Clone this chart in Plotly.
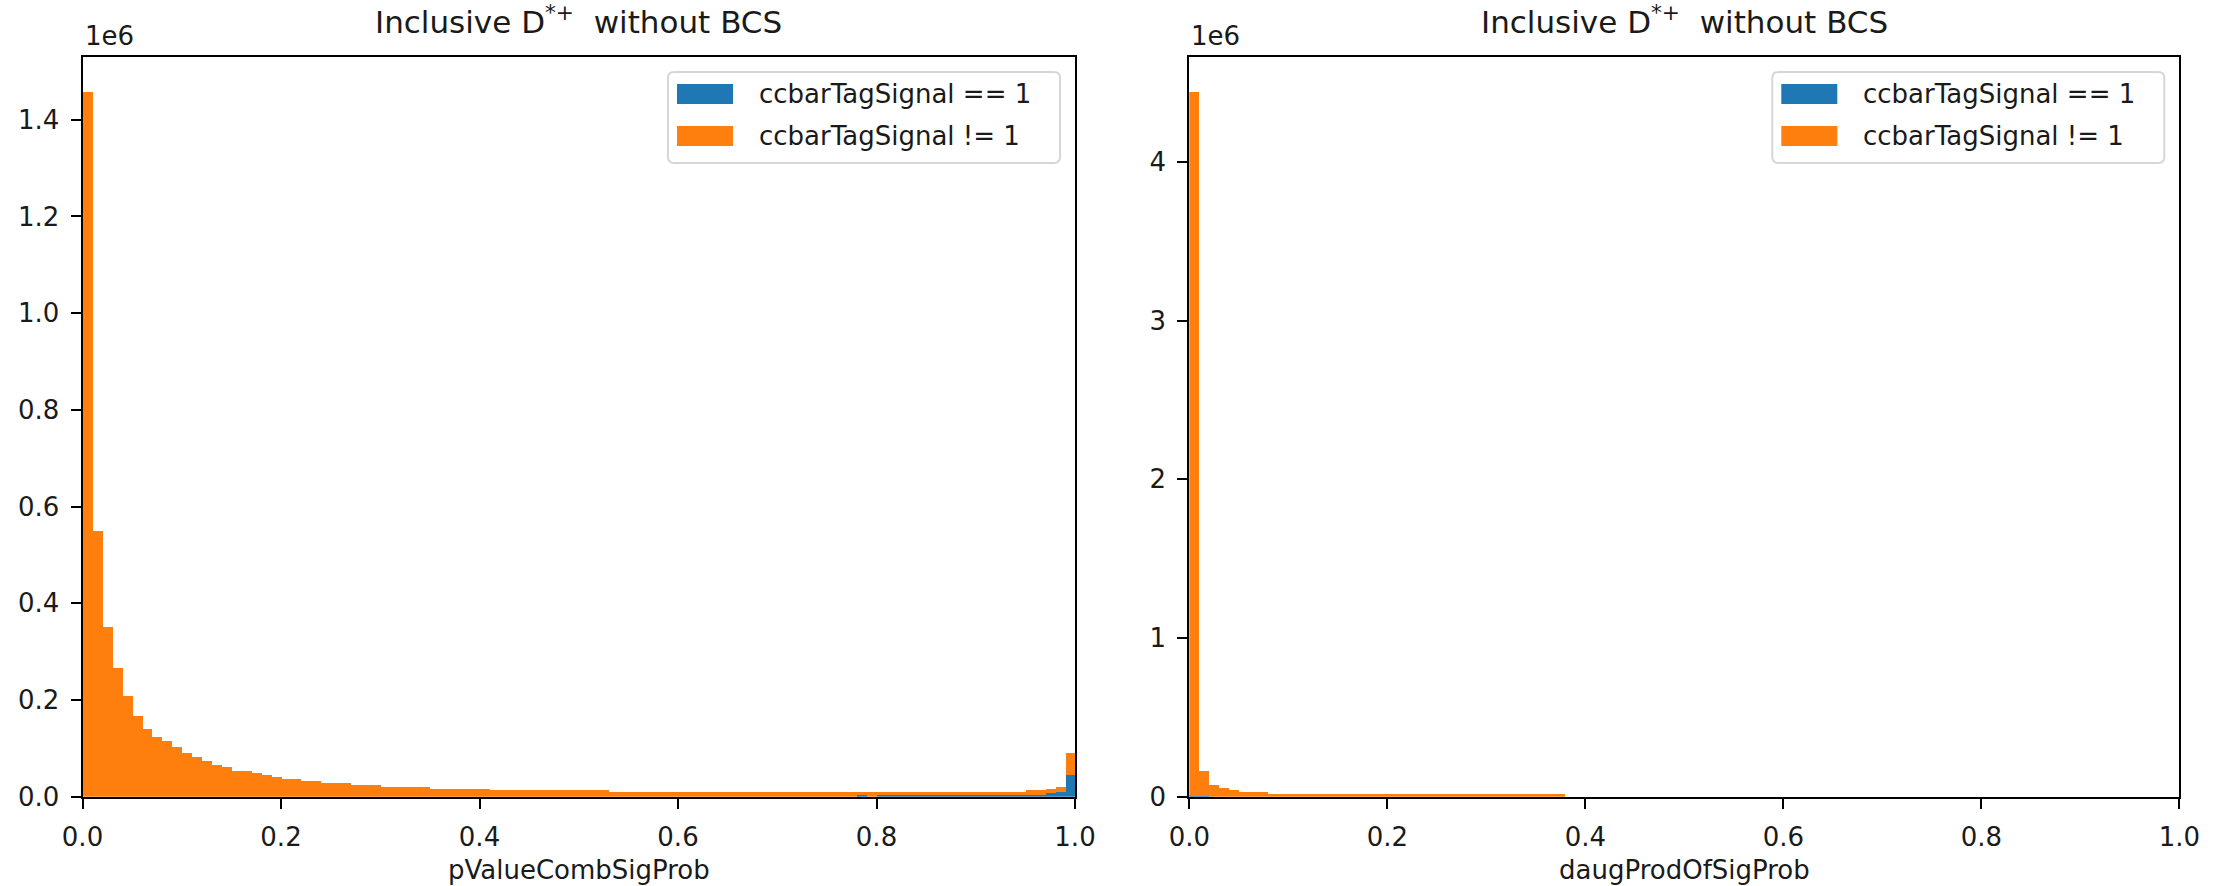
import numpy as np
import plotly.graph_objects as go

# ---- histogram contents: 100 equal bins on [0, 1] ----
bin_edges = np.linspace(0.0, 1.0, 101)

# pValueCombSigProb, ccbarTagSignal == 1
p_signal = ([0] * 78 + [4000] + [0] + [4000] * 15
            + [4500, 4500, 8000, 9000, 45000])
# pValueCombSigProb, ccbarTagSignal != 1
p_background = ([1457000, 550000, 352000, 266000, 208000, 166000, 140000,
                 124000, 116000, 103000, 91000, 82000, 74000, 66000, 62000,
                 54000, 54000, 50000, 45000, 41000, 37000, 37000, 33000,
                 33000, 29000, 29000, 29000, 24000, 24000, 24000]
                + [20500] * 5 + [16600] * 6 + [13100] * 12 + [9600] * 25
                + [5600] + [9600] + [5600] * 15
                + [8500, 8500, 8600, 11700, 46000])

# daugProdOfSigProb, ccbarTagSignal == 1
d_signal = [6000, 6000] + [0] * 98
# daugProdOfSigProb, ccbarTagSignal != 1
d_background = ([4434000, 158000, 74000, 53000, 40000, 27000, 27000, 27000]
                + [14700] * 30 + [0] * 62)

series_names = ["ccbarTagSignal == 1", "ccbarTagSignal != 1"]
series_colors = ["#1f77b4", "#ff7f0e"]
x_titles = ["pValueCombSigProb", "daugProdOfSigProb"]
panel_title = "Inclusive D<sup>*+</sup>  without BCS"
left_ticks = [0, 200000, 400000, 600000, 800000, 1000000, 1200000, 1400000]
left_ticktext = ["0.0", "0.2", "0.4", "0.6", "0.8", "1.0", "1.2", "1.4"]
right_ticks = [0, 1000000, 2000000, 3000000, 4000000]
right_ticktext = ["0", "1", "2", "3", "4"]
x_ticks = [0.0, 0.2, 0.4, 0.6, 0.8, 1.0]
x_ticktext = ["0.0", "0.2", "0.4", "0.6", "0.8", "1.0"]

# ---- page geometry (pixels) ----
W, H = 2227, 886
FONT = "DejaVu Sans"
INK = "#1a1a1a"


def px(x):
    return x / W


def py(y):
    return 1 - y / H


panels = [
    dict(x0=82.5, x1=1075.0),
    dict(x0=1189.3, x1=2179.3),
]
ax_top, ax_bottom = 57.0, 796.7

centers = 0.5 * (bin_edges[:-1] + bin_edges[1:])
widths = np.diff(bin_edges)

fig = go.Figure()

data_sets = [(p_signal, p_background), (d_signal, d_background)]
for i, (sig, bkg) in enumerate(data_sets):
    xa = "x" if i == 0 else "x2"
    ya = "y" if i == 0 else "y2"
    for vals, name, col in zip((sig, bkg), series_names, series_colors):
        fig.add_trace(go.Bar(
            x=centers, y=vals, width=widths, name=name,
            marker=dict(color=col, line=dict(width=0)),
            xaxis=xa, yaxis=ya, showlegend=False,
        ))

axis_common = dict(
    showline=True, mirror=True, linecolor="black", linewidth=2,
    ticks="outside", ticklen=10, tickwidth=2, tickcolor="black",
    showgrid=False, zeroline=False, automargin=False,
    tickfont=dict(family=FONT, size=26, color=INK),
)

p_ymax = max(a + b for a, b in zip(p_signal, p_background)) * 1.05
d_ymax = max(a + b for a, b in zip(d_signal, d_background)) * 1.05

fig.update_layout(
    width=W, height=H,
    margin=dict(l=0, r=0, t=0, b=0),
    paper_bgcolor="white", plot_bgcolor="white",
    barmode="stack", bargap=0,
    xaxis=dict(domain=[px(panels[0]["x0"]), px(panels[0]["x1"])],
               range=[0, 1], anchor="y", tickvals=x_ticks,
               ticktext=x_ticktext, ticklabelstandoff=6, **axis_common),
    yaxis=dict(domain=[py(ax_bottom), py(ax_top)], range=[0, p_ymax],
               anchor="x", tickvals=left_ticks, ticktext=left_ticktext,
               ticklabelstandoff=6, **axis_common),
    xaxis2=dict(domain=[px(panels[1]["x0"]), px(panels[1]["x1"])],
                range=[0, 1], anchor="y2", tickvals=x_ticks,
                ticktext=x_ticktext, ticklabelstandoff=6, **axis_common),
    yaxis2=dict(domain=[py(ax_bottom), py(ax_top)], range=[0, d_ymax],
                anchor="x2", tickvals=right_ticks, ticktext=right_ticktext,
                ticklabelstandoff=6, **axis_common),
)

annotations = []
shapes = []
for i, pnl in enumerate(panels):
    cx = 0.5 * (pnl["x0"] + pnl["x1"])
    # panel title
    annotations.append(dict(
        x=px(cx), y=py(42), xref="paper", yref="paper",
        xanchor="center", yanchor="bottom", showarrow=False,
        text=panel_title, font=dict(family=FONT, size=31, color=INK)))
    # axis offset label
    annotations.append(dict(
        x=px(pnl["x0"]), y=py(53), xref="paper", yref="paper",
        xanchor="left", yanchor="bottom", showarrow=False,
        text="1e6", font=dict(family=FONT, size=26, color=INK)))
    # x-axis title
    annotations.append(dict(
        x=px(cx), y=py(853), xref="paper", yref="paper",
        xanchor="center", yanchor="top", showarrow=False,
        text=x_titles[i], font=dict(family=FONT, size=26, color=INK)))

    # legend frame
    lx0 = pnl["x1"] - 407
    lx1 = pnl["x1"] - 15
    ly0, ly1 = 72, 163
    r = 6
    path = (f"M {px(lx0 + r)},{py(ly0)} L {px(lx1 - r)},{py(ly0)} "
            f"Q {px(lx1)},{py(ly0)} {px(lx1)},{py(ly0 + r)} "
            f"L {px(lx1)},{py(ly1 - r)} "
            f"Q {px(lx1)},{py(ly1)} {px(lx1 - r)},{py(ly1)} "
            f"L {px(lx0 + r)},{py(ly1)} "
            f"Q {px(lx0)},{py(ly1)} {px(lx0)},{py(ly1 - r)} "
            f"L {px(lx0)},{py(ly0 + r)} "
            f"Q {px(lx0)},{py(ly0)} {px(lx0 + r)},{py(ly0)} Z")
    shapes.append(dict(type="path", path=path, xref="paper", yref="paper",
                       line=dict(color="#d6d6d6", width=2),
                       fillcolor="rgba(255,255,255,0.8)", layer="above"))
    for k, (name, col) in enumerate(zip(series_names, series_colors)):
        yc = 94 + 42 * k
        shapes.append(dict(type="rect", xref="paper", yref="paper",
                           x0=px(lx0 + 9), x1=px(lx0 + 65),
                           y0=py(yc + 10), y1=py(yc - 10),
                           fillcolor=col, line=dict(width=0), layer="above"))
        annotations.append(dict(
            x=px(lx0 + 89), y=py(yc), xref="paper", yref="paper",
            xanchor="left", yanchor="middle", showarrow=False,
            text=name, font=dict(family=FONT, size=26, color=INK)))

fig.update_layout(annotations=annotations, shapes=shapes)

fig.write_html("out.html")
